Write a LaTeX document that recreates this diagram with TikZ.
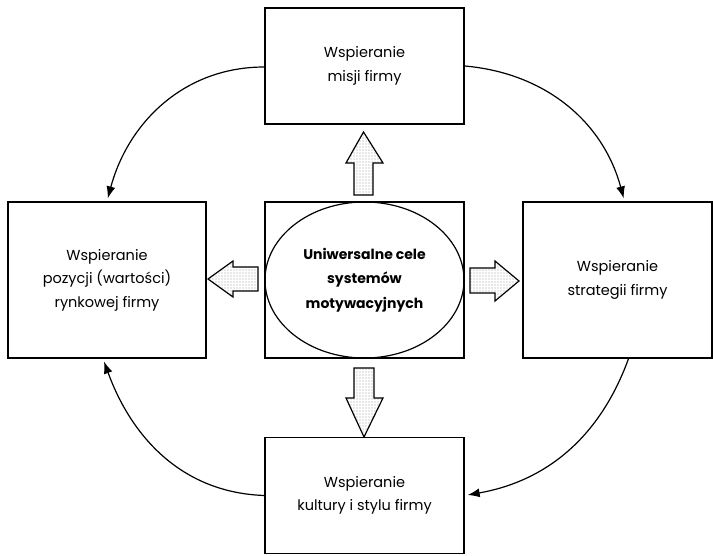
\documentclass[tikz,border=0pt]{standalone}
\usepackage{fontspec}
\setmainfont{Poppins}
\usetikzlibrary{arrows.meta,patterns.meta}
\begin{document}
\begin{tikzpicture}[x=1pt,y=1pt,
  box/.style={draw, line width=1.4pt, align=center, inner sep=0pt,
    font=\fontsize{14.5}{23.5}\selectfont},
  cycle/.style={line width=1.2pt, -{Latex[length=12pt,width=9pt]}, shorten >=3pt},
  blockarrow/.style={draw, line width=1.2pt, line join=miter,
    preaction={fill=white},
    pattern={Dots[distance=3pt,radius=0.65pt]}, pattern color=gray!75}
]
\useasboundingbox (0,0) rectangle (713,555);
% boxes
\node[box, minimum width=199pt, minimum height=116pt] (top) at (364.5,489)
  {Wspieranie\\misji firmy};
\node[box, minimum width=198pt, minimum height=156pt] (left) at (107,275)
  {Wspieranie\\pozycji (wartości)\\rynkowej firmy};
\node[box, minimum width=199pt, minimum height=156pt] (center) at (364.5,275) {};
\node[box, minimum width=189pt, minimum height=156pt] (right) at (617.5,275)
  {Wspieranie\\strategii firmy};
\node[box, minimum width=199pt, minimum height=116pt] (bottom) at (364.5,59.5)
  {Wspieranie\\kultury i stylu firmy};
% ellipse
\draw[line width=1.2pt] (center.center) ellipse [x radius=99.5pt, y radius=78pt];
\node[align=center, font=\fontsize{14}{24.5}\selectfont\bfseries] (goal) at (center.center)
  {Uniwersalne cele\\systemów\\motywacyjnych};
% block arrows
\path[blockarrow] (354,360) -- (373,360) -- (373,392) -- (383,392) -- (363.5,423)
  -- (346,392) -- (354,392) -- cycle;
\path[blockarrow] (354,187) -- (374,187) -- (374,157) -- (383,157) -- (364,118)
  -- (346,157) -- (354,157) -- cycle;
\path[blockarrow] (470,262) -- (495,262) -- (495,254) -- (519,274) -- (495,294)
  -- (495,287) -- (470,287) -- cycle;
\path[blockarrow] (258,264) -- (233,264) -- (233,258) -- (208,276) -- (233,294)
  -- (233,288) -- (258,288) -- cycle;
% cycle connectors
\draw[cycle] ([yshift=-1pt]top.west) to[out=180,in=75] (left.north);
\draw[cycle] (top.east) to[out=-5,in=105] ([xshift=7pt]right.north);
\draw[cycle] ([xshift=11pt]right.south) to[out=250,in=10] (bottom.east);
\draw[cycle] (bottom.west) to[out=178,in=-70] ([xshift=-4pt]left.south);
\end{tikzpicture}
\end{document}
